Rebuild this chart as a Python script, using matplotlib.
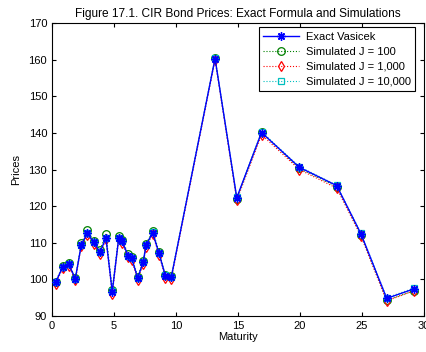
import matplotlib
matplotlib.use("Agg")
import matplotlib.pyplot as plt

plt.rcParams["font.family"] = ["Liberation Sans", "DejaVu Sans"]

# ---------- Data ----------

maturity = [0.30, 0.86, 1.35, 1.88, 2.36, 2.85, 3.36, 3.87, 4.35, 4.86,
            5.38, 5.65, 6.15, 6.43, 6.91, 7.36, 7.58, 8.12, 8.63, 9.14,
            9.62, 13.15, 14.90, 16.90, 19.94, 22.96, 24.92, 26.99, 29.19]

exact = [99.2, 103.4, 104.1, 100.2, 109.4, 112.6, 110.1, 107.4, 111.3, 96.6,
         111.3, 110.4, 106.4, 105.7, 100.4, 104.7, 109.3, 112.7, 107.1, 101.0,
         100.6, 160.3, 122.3, 140.1, 130.6, 125.6, 112.4, 94.8, 97.4]

sim_100 = [99.4, 103.7, 104.4, 100.3, 109.8, 113.4, 110.5, 108.0, 112.3, 97.2,
           111.8, 110.7, 107.0, 106.2, 100.7, 105.0, 109.6, 113.3, 107.5, 101.2,
           100.8, 160.4, 122.0, 140.2, 130.3, 125.3, 112.0, 94.3, 96.9]

sim_1000 = [98.8, 103.0, 103.7, 99.7, 109.0, 112.2, 109.7, 106.9, 110.9, 96.0,
            110.9, 110.0, 106.0, 105.2, 99.9, 104.2, 108.9, 112.3, 106.7, 100.5,
            100.1, 159.9, 121.6, 139.5, 130.0, 124.9, 111.8, 94.1, 96.9]

sim_10000 = [99.2, 103.4, 104.1, 100.2, 109.4, 112.6, 110.2, 107.4, 111.3, 96.7,
             111.3, 110.5, 106.4, 105.8, 100.5, 104.8, 109.4, 112.8, 107.1, 101.1,
             100.7, 160.4, 122.4, 140.3, 130.8, 125.7, 112.6, 95.0, 97.6]


def main():
    fig = plt.figure(figsize=(4.26, 3.52), dpi=100)
    ax = fig.add_axes([52 / 426, 36 / 352, 372 / 426, 293 / 352])

    # asterisk marker: 8 arms, like + and x overlaid
    ax.plot(maturity, exact, "-", color="blue", marker=(8, 2, 0), lw=1.0,
            ms=6, mew=1.0, label="Exact Vasicek", zorder=5)
    ax.plot(maturity, sim_100, ":o", color="green", lw=0.8, ms=5.5,
            mfc="none", mew=0.9, label="Simulated J = 100", zorder=2)
    ax.plot(maturity, sim_1000, ":d", color="red", lw=0.8, ms=5.5,
            mfc="none", mew=0.9, label="Simulated J = 1,000", zorder=3)
    ax.plot(maturity, sim_10000, ":s", color="c", lw=0.8, ms=5,
            mfc="none", mew=0.9, label="Simulated J = 10,000", zorder=4)

    ax.set_xlim(0, 30)
    ax.set_ylim(90, 170)
    ax.set_xticks(range(0, 31, 5))
    ax.set_yticks(range(90, 171, 10))
    ax.tick_params(direction="in", labelsize=8, length=3, top=True, right=True)
    for s in ax.spines.values():
        s.set_linewidth(0.8)

    ax.set_title("Figure 17.1. CIR Bond Prices: Exact Formula and Simulations",
                 fontsize=8.6, pad=4)
    ax.set_xlabel("Maturity", fontsize=8, labelpad=1)
    ax.set_ylabel("Prices", fontsize=8, labelpad=5)

    leg = ax.legend(loc="upper right", bbox_to_anchor=(0.976, 0.985),
                    fontsize=8, fancybox=False, edgecolor="black",
                    framealpha=1, borderaxespad=0, handlelength=3.2,
                    labelspacing=0.45, borderpad=0.4, handletextpad=0.6)
    leg.get_frame().set_linewidth(0.8)

    fig.savefig("out.png", dpi=100)
    plt.close(fig)


if __name__ == "__main__":
    main()
